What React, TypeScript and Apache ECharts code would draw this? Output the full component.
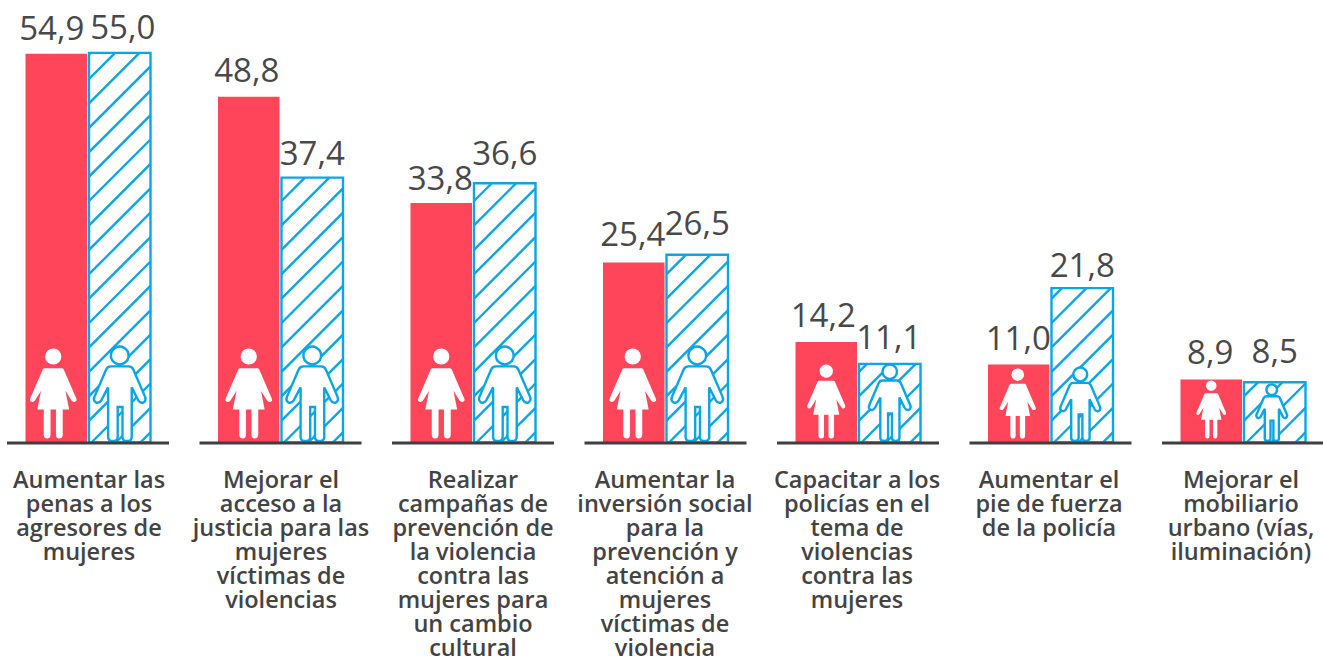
import React, { useEffect, useRef } from "react";
import * as echarts from "echarts";

const categories = [
  "Aumentar las\npenas a los\nagresores de\nmujeres",
  "Mejorar el\nacceso a la\njusticia para las\nmujeres\nvíctimas de\nviolencias",
  "Realizar\ncampañas de\nprevención de\nla violencia\ncontra las\nmujeres para\nun cambio\ncultural",
  "Aumentar la\ninversión social\npara la\nprevención y\natención a\nmujeres\nvíctimas de\nviolencia",
  "Capacitar a los\npolicías en el\ntema de\nviolencias\ncontra las\nmujeres",
  "Aumentar el\npie de fuerza\nde la policía",
  "Mejorar el\nmobiliario\nurbano (vías,\niluminación)",
];
const women = [54.9, 48.8, 33.8, 25.4, 14.2, 11.0, 8.9];
const men = [55.0, 37.4, 36.6, 26.5, 11.1, 21.8, 8.5];

// Marks' styling, kept apart from the values
const womanIconHeights = [90, 90, 90, 90, 74, 70, 58];
const manIconHeights = [95, 95, 95, 95, 77, 74, 57];
const womanIconNudge = [-3, 0, 0, -1, 0, -1, 0];
const manIconNudge = [0, 0, 0, 0, 0, -2, -3];
const womenLabelNudge = [-4.5, -2, -1, -1, -3, -0.5, -1];
const menLabelNudge = [3, 0, 0, 0, -1, 0, 0];
const womenLabelGap = [12.5, 14, 12, 16, 14, 14, 14];
const menLabelGap = [13, 12, 17, 19, 14, 10, 18];

const RED = "#ff4559";
const BLUE = "#0aa6e4";
const INK = "#484848";
const STEP = 192.5;
const BAR_W = 61.5;
const BAR_OFF = 31.75;
const HATCH = 24.4;

const WOMAN =
  "M70 0A24 24 0 1 1 70 48A24 24 0 1 1 70 0ZM45 59L95 59Q99 59 101 63L138 150Q141 158 134 160Q128 162 124 156L106 127L117 183L98 183L98 258Q98 270 88 270Q78 270 78 258L78 183L62 183L62 258Q62 270 52 270Q42 270 42 258L42 183L23 183L34 127L16 156Q12 162 6 160Q-1 158 2 150L39 63Q41 59 45 59Z";
const MAN_BODY =
  "M50 60L102 60Q112 60 116 70L150 150Q154 160 146 166Q136 170 130 160L111 122L111 268Q111 280 97 280Q84 280 84 268L84 180L70 180L70 268Q70 280 56 280Q42 280 42 268L42 122L22 160Q16 170 6 166Q-2 160 2 150L36 70Q40 60 50 60Z";

const fmt = (p: any) => Number(p.value).toFixed(1).replace(".", ",");
const valueLabel = {
  show: true,
  position: "top",
  distance: 10,
  fontFamily: "Open Sans",
  fontWeight: 400,
  fontSize: 33,
  color: INK,
  formatter: fmt,
};

export default function App() {
  const ref = useRef<HTMLDivElement>(null);
  useEffect(() => {
    const chart = echarts.init(ref.current!, undefined, { renderer: "svg" });
    const hatch = (left: number, bottom: number, w: number, h: number) => {
      const out: any[] = [];
      for (let k = -Math.ceil(w / HATCH) - 1; k * HATCH < h + HATCH; k++) {
        const c = k * HATCH - 2.5;
        const x0 = Math.max(0, -c);
        const x1 = Math.min(w, h - c);
        if (x1 <= x0) continue;
        out.push({
          type: "line",
          shape: { x1: left + x0, y1: bottom - (x0 + c), x2: left + x1, y2: bottom - (x1 + c) },
          style: { stroke: BLUE, lineWidth: 2.4, fill: "none" },
        });
      }
      return out;
    };
    chart.setOption({
      animation: false,
      grid: [
        { left: -8.25, top: 17.5, width: STEP * 7, height: 425, outerBoundsMode: "none", containLabel: false },
        { left: -7, top: 17.5, width: 192 * 7, height: 425, outerBoundsMode: "none", containLabel: false },
      ],
      xAxis: [
        { type: "category", gridIndex: 0, data: categories, axisLine: { show: false }, axisTick: { show: false }, axisLabel: { show: false } },
        {
          type: "category",
          gridIndex: 1,
          data: categories,
          axisLine: { show: false },
          axisTick: { show: false },
          axisLabel: {
            interval: 0,
            hideOverlap: false,
            margin: 24,
            fontFamily: "Open Sans",
            fontWeight: 600,
            fontSize: 23.5,
            lineHeight: 24,
            color: "#434343",
          },
        },
      ],
      yAxis: [
        { type: "value", gridIndex: 0, min: 0, max: 60, show: false },
        { type: "value", gridIndex: 1, min: 0, max: 60, show: false },
      ],
      series: [
        {
          type: "bar",
          data: women.map((value, i) => ({ value, label: { offset: [womenLabelNudge[i], 13 - womenLabelGap[i]] } })),
          barWidth: BAR_W,
          barGap: "3.25%",
          itemStyle: { color: RED },
          label: valueLabel,
        },
        {
          type: "bar",
          data: men.map((value, i) => ({ value, label: { offset: [menLabelNudge[i], 13 - menLabelGap[i]] } })),
          barWidth: BAR_W,
          itemStyle: { color: "#ffffff", borderWidth: 0 },
          label: valueLabel,
        },
        {
          type: "custom",
          z: 5,
          silent: true,
          data: categories.map((_, i) => [i, women[i], men[i]]),
          encode: { x: 0, y: 1 },
          renderItem: (_p: any, api: any) => {
            const i = api.value(0);
            const [cx, y0] = api.coord([i, 0]);
            const yMen = api.coord([i, api.value(2)])[1];
            const wx = cx - BAR_OFF + womanIconNudge[i];
            const mx = cx + BAR_OFF;
            const wh = womanIconHeights[i];
            const mh = manIconHeights[i];
            const ww = (wh * 140) / 270;
            const mw = (mh * 152) / 280;
            const mLeft = mx + manIconNudge[i] - mw / 2;
            const mTop = y0 - 1.5 - mh;
            const wTop = y0 - 4 - wh;
            return {
              type: "group",
              children: [
                ...hatch(mx - BAR_W / 2, y0, BAR_W, y0 - yMen),
                {
                  type: "rect",
                  shape: { x: mx - BAR_W / 2, y: yMen, width: BAR_W, height: y0 - yMen },
                  style: { fill: "none", stroke: BLUE, lineWidth: 2.4 },
                },
                {
                  type: "path",
                  shape: { pathData: WOMAN, x: wx - ww / 2, y: wTop, width: ww, height: wh, layout: "cover" },
                  style: { fill: "#ffffff" },
                },
                {
                  type: "path",
                  shape: { pathData: MAN_BODY, x: mLeft, y: mTop + (mh * 60) / 280, width: mw, height: (mh * 220) / 280, layout: "cover" },
                  style: { fill: "#ffffff", stroke: BLUE, lineWidth: 2.4 },
                },
                {
                  type: "circle",
                  shape: { cx: mLeft + (mw * 76) / 152, cy: mTop + (mh * 28) / 280, r: (mh * 26) / 280 },
                  style: { fill: "#ffffff", stroke: BLUE, lineWidth: 2.4 },
                },
                {
                  type: "line",
                  shape: { x1: cx - 81, y1: y0 + 0.5, x2: cx + 81, y2: y0 + 0.5 },
                  style: { stroke: "#3f3f3f", lineWidth: 3 },
                },
              ],
            };
          },
        },
      ],
    });
    return () => chart.dispose();
  }, []);
  return <div ref={ref} style={{ position: "absolute", left: 0, top: 0, width: 1323, height: 658 }} />;
}
